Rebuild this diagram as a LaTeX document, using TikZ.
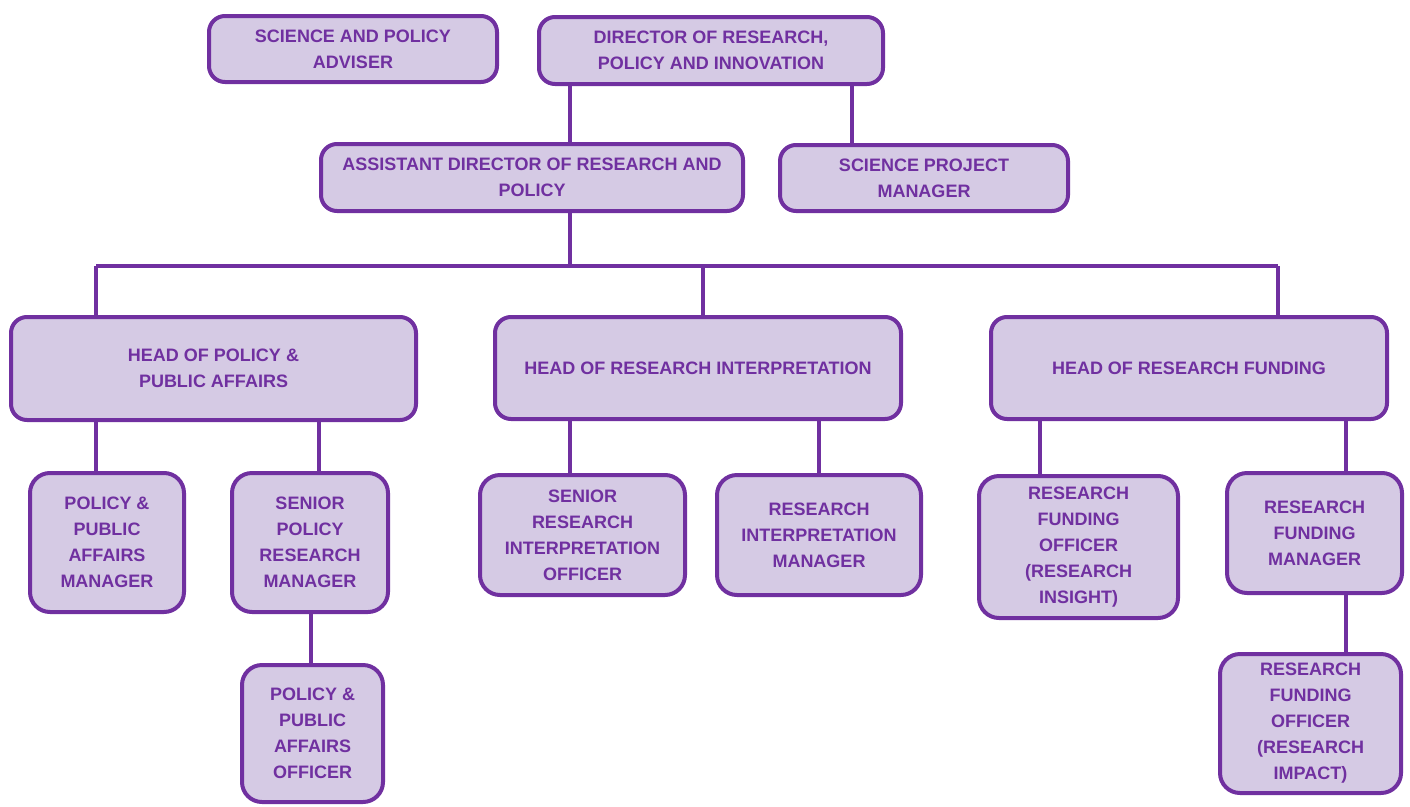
\documentclass[tikz,border=0pt]{standalone}
\usepackage{fontspec}
\setmainfont{Liberation Sans}
\definecolor{pborder}{RGB}{112,48,160}
\definecolor{pfill}{RGB}{213,202,228}
\definecolor{ptext}{RGB}{112,48,160}
\begin{document}
\begin{tikzpicture}[x=1pt,y=-1pt,
  box/.style={draw=pborder,fill=pfill,line width=4pt,rounded corners=16pt,
    inner sep=0pt,align=center,text=ptext,
    font=\bfseries\fontsize{18}{26}\selectfont},
  conn/.style={draw=pborder,line width=4pt}]
\useasboundingbox (0,0) rectangle (1410,806);
% connectors first
\coordinate (busL) at (96,266);
\coordinate (busM) at (570,266);
\coordinate (busC) at (703,266);
\coordinate (busR) at (1278,266);
% boxes
\node[box,minimum width=288,minimum height=66] (sa) at (353,49) {SCIENCE AND POLICY\\ADVISER};
\node[box,minimum width=344,minimum height=67] (dir) at (711,50.5) {DIRECTOR OF RESEARCH,\\POLICY AND INNOVATION};
\node[box,minimum width=422,minimum height=67] (ad) at (532,177.5) {ASSISTANT DIRECTOR OF RESEARCH AND\\POLICY};
\node[box,minimum width=288,minimum height=66] (spm) at (924,178) {SCIENCE PROJECT\\MANAGER};
\node[box,minimum width=405,minimum height=103] (hp) at (213.5,368.5) {HEAD OF POLICY \&\\PUBLIC AFFAIRS};
\node[box,minimum width=406,minimum height=102] (hri) at (698,368) {HEAD OF RESEARCH INTERPRETATION};
\node[box,minimum width=396,minimum height=102] (hrf) at (1189,368) {HEAD OF RESEARCH FUNDING};
\node[box,rounded corners=20pt,minimum width=154,minimum height=139] (ppam) at (107,542.5) {POLICY \&\\PUBLIC\\AFFAIRS\\MANAGER};
\node[box,rounded corners=20pt,minimum width=156,minimum height=139] (sprm) at (310,542.5) {SENIOR\\POLICY\\RESEARCH\\MANAGER};
\node[box,rounded corners=20pt,minimum width=141,minimum height=137] (ppao) at (312.5,733.5) {POLICY \&\\PUBLIC\\AFFAIRS\\OFFICER};
\node[box,rounded corners=20pt,minimum width=205,minimum height=120] (srio) at (582.5,535) {SENIOR\\RESEARCH\\INTERPRETATION\\OFFICER};
\node[box,rounded corners=20pt,minimum width=204,minimum height=120] (rim) at (819,535) {RESEARCH\\INTERPRETATION\\MANAGER};
\node[box,rounded corners=20pt,minimum width=199,minimum height=142] (rfoi) at (1078.5,547) {RESEARCH\\FUNDING\\OFFICER\\(RESEARCH\\INSIGHT)};
\node[box,rounded corners=20pt,minimum width=175,minimum height=120] (rfm) at (1314.5,533) {RESEARCH\\FUNDING\\MANAGER};
\node[box,rounded corners=20pt,minimum width=181,minimum height=139] (rfoim) at (1310.5,723.5) {RESEARCH\\FUNDING\\OFFICER\\(RESEARCH\\IMPACT)};
% connectors
\draw[conn] (dir.south -| 570,0) -- (ad.north -| 570,0);
\draw[conn] (dir.south -| 852,0) -- (spm.north -| 852,0);
\draw[conn] (ad.south -| busM) -- (busM);
\draw[conn] (busL) -- (busR);
\draw[conn] (busL) -- (hp.north -| busL);
\draw[conn] (busC) -- (hri.north -| busC);
\draw[conn] (busR) -- (hrf.north -| busR);
\draw[conn] (hp.south -| 96,0) -- (ppam.north -| 96,0);
\draw[conn] (hp.south -| 319,0) -- (sprm.north -| 319,0);
\draw[conn] (sprm.south -| 311,0) -- (ppao.north -| 311,0);
\draw[conn] (hri.south -| 570,0) -- (srio.north -| 570,0);
\draw[conn] (hri.south -| 819,0) -- (rim.north -| 819,0);
\draw[conn] (hrf.south -| 1040,0) -- (rfoi.north -| 1040,0);
\draw[conn] (hrf.south -| 1346,0) -- (rfm.north -| 1346,0);
\draw[conn] (rfm.south -| 1346,0) -- (rfoim.north -| 1346,0);
\end{tikzpicture}
\end{document}
